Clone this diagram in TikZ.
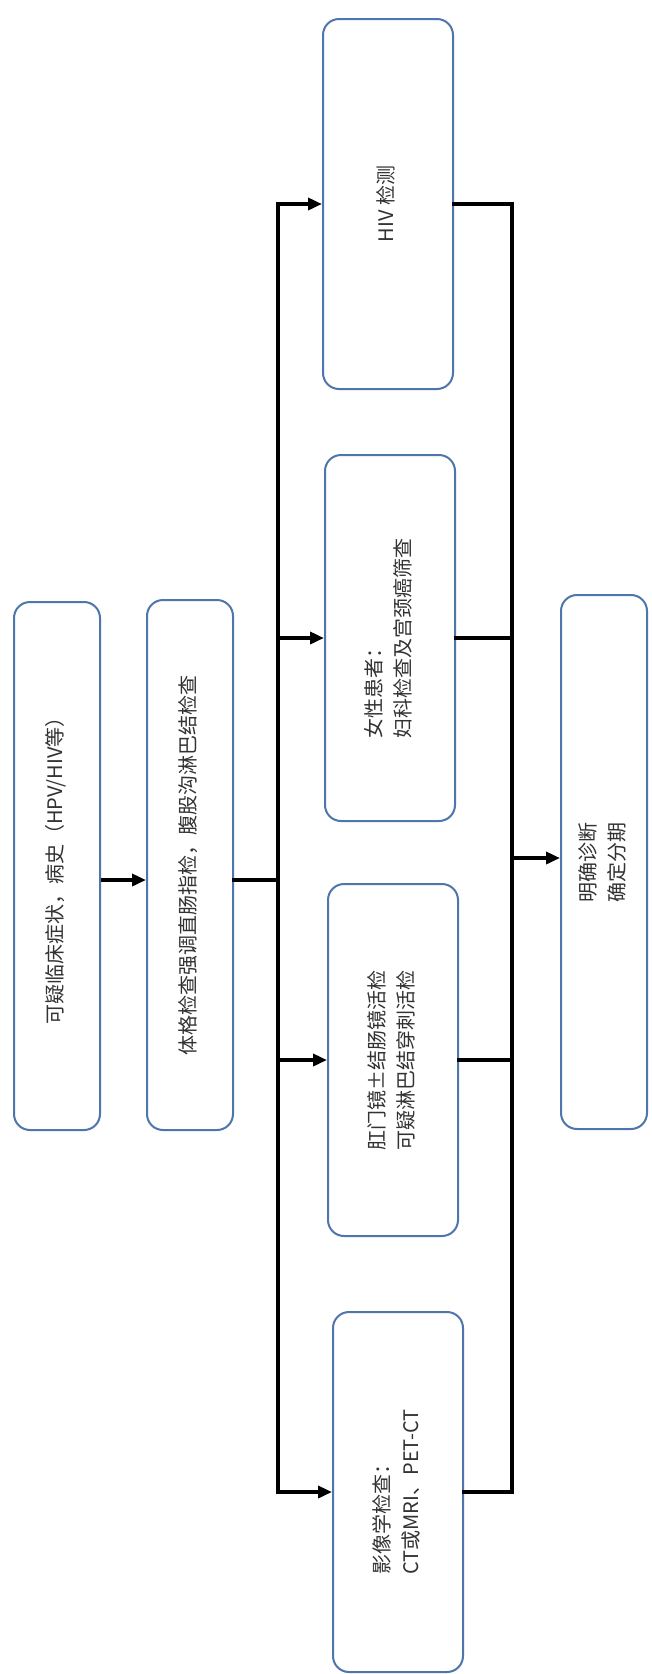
\documentclass[tikz,border=0pt]{standalone}
\usepackage{fontspec}
\usepackage{graphicx}
\setmainfont{Noto Sans CJK SC}
\usetikzlibrary{arrows.meta}
\definecolor{boxblue}{RGB}{78,118,172}
\definecolor{txtgray}{RGB}{50,50,50}
\newcommand{\vtxt}[1]{\rotatebox{90}{\begin{tabular}{@{}l@{}}#1\end{tabular}}}
\tikzset{
  box/.style={draw=boxblue, line width=2pt, rounded corners=16pt, fill=white,
    inner sep=0pt, text=txtgray, font=\fontsize{20pt}{29pt}\selectfont},
  ln/.style={line width=3.5pt, black, line cap=rect},
  arr/.style={line width=3.5pt, black, -{Triangle[length=14pt,width=12pt]}}
}
\begin{document}
\begin{tikzpicture}[x=1pt,y=-1pt]
\useasboundingbox[fill=white] (0,0) rectangle (651,1674);
% left column
\node[box, minimum width=86pt, minimum height=528pt] (b1) at (57,866) {\vtxt{可疑临床症状，病史（HPV/HIV等）}};
\node[box, minimum width=86pt, minimum height=530pt] (b2) at (190,865) {\vtxt{体格检查强调直肠指检，腹股沟淋巴结检查}};
% middle column
\node[box, minimum width=130pt, minimum height=370pt] (hiv) at (388,204) {\vtxt{HIV 检测}};
\node[box, minimum width=130pt, minimum height=366pt] (fem) at (390,638) {\vtxt{女性患者：\\妇科检查及宫颈癌筛查}};
\node[box, minimum width=130pt, minimum height=352pt] (anal) at (393,1060) {\vtxt{肛门镜±结肠镜活检\\可疑淋巴结穿刺活检}};
\node[box, minimum width=130pt, minimum height=360pt] (img) at (398,1492) {\vtxt{影像学检查：\\CT或MRI、PET-CT}};
% right column
\node[box, minimum width=86pt, minimum height=534pt] (fin) at (604,862) {\vtxt{明确诊断\\确定分期}};
% junction coordinates
\coordinate (m) at (0,880);
\coordinate (t) at (278,880);
\coordinate (c) at (512,858);
% connectors
\draw[arr] (b1.east |- m) -- (b2.west |- m);
\draw[ln] (b2.east |- m) -- (t);
\draw[ln] (t |- hiv) -- (t |- img);
\foreach \n in {hiv,fem,anal,img}{
  \draw[arr] (t |- \n) -- (\n.west);
  \draw[ln] (\n.east) -- (c |- \n);
}
\draw[ln] (c |- hiv) -- (c |- img);
\draw[arr] (c) -- (fin.west |- c);
\end{tikzpicture}
\end{document}
